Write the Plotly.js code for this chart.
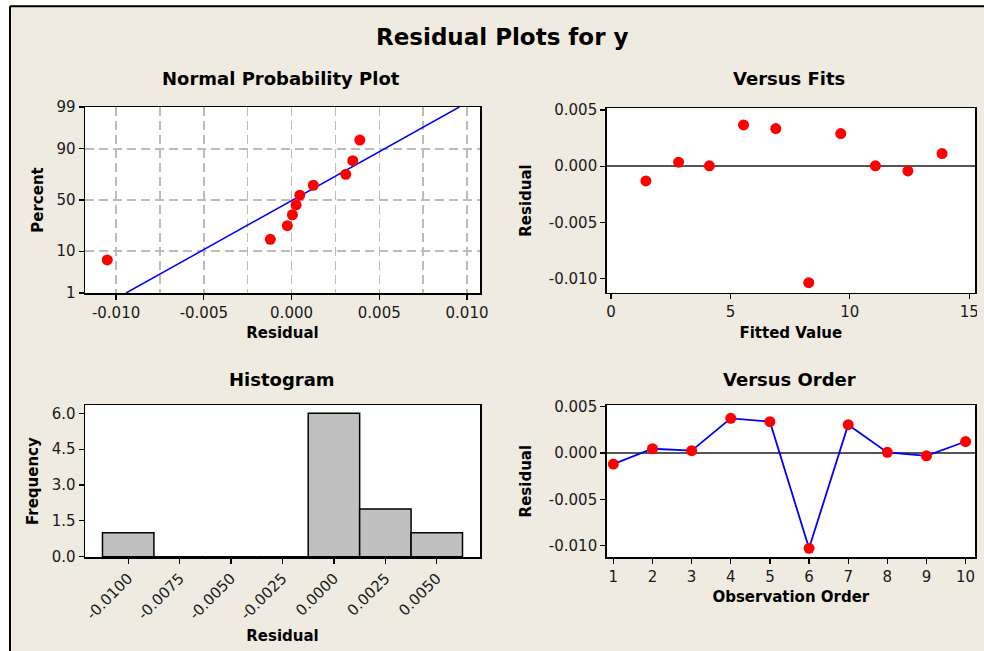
<!DOCTYPE html>
<html>
<head>
<meta charset="utf-8">
<script src="https://cdn.plot.ly/plotly-3.0.1.min.js"></script>
<style>html,body{margin:0;padding:0;background:#efebe1;overflow:hidden;}#chart{width:984px;height:651px;}</style>
</head>
<body>
<div id="chart"></div>
<script>
// ---- Data ----
// Normal probability plot (sorted residuals and plotted percents)
const normResid = [-0.0105, -0.00121, -0.00024, 0.00005, 0.00026, 0.00047, 0.00124, 0.00309, 0.00349, 0.00389];
const normPct = [6.7, 16.3, 26.0, 35.6, 45.2, 54.8, 64.4, 74.0, 83.7, 93.3];
const fitLineResid = [-0.00943, 0.00956];
const fitLinePct = [1, 99];
const pctTicks = [1, 10, 50, 90, 99];
const pctTickText = ['1', '10', '50', '90', '99'];
const residTicks = [-0.010, -0.005, 0.000, 0.005, 0.010];
const residTickText = ['-0.010', '-0.005', '0.000', '0.005', '0.010'];
const residMinorGrid = [-0.0075, -0.0025, 0.0025, 0.0075];

// Versus fits
const fittedValues = [1.46, 2.83, 4.12, 5.55, 6.90, 8.28, 9.62, 11.07, 12.43, 13.86];
const fitsResid = [-0.00131, 0.00036, 0.00003, 0.00367, 0.00335, -0.01036, 0.00290, 0.00003, -0.00042, 0.00112];
const fitsXTicks = [0, 5, 10, 15];
const fitsXTickText = ['0', '5', '10', '15'];
const residYTicks = [0.005, 0.000, -0.005, -0.010];
const residYTickText = ['0.005', '0.000', '-0.005', '-0.010'];

// Histogram
const binCenters = [-0.0100, -0.0075, -0.0050, -0.0025, 0.0000, 0.0025, 0.0050];
const binTickText = ['-0.0100', '-0.0075', '-0.0050', '-0.0025', '0.0000', '0.0025', '0.0050'];
const frequency = [1, 0, 0, 0, 6, 2, 1];
const freqTicks = [0, 1.5, 3.0, 4.5, 6.0];
const freqTickText = ['0.0', '1.5', '3.0', '4.5', '6.0'];

// Versus order
const observation = [1, 2, 3, 4, 5, 6, 7, 8, 9, 10];
const orderResid = [-0.00119, 0.00046, 0.00025, 0.00374, 0.00338, -0.01028, 0.00306, 0.00007, -0.00030, 0.00124];
const orderTickText = ['1', '2', '3', '4', '5', '6', '7', '8', '9', '10'];

// ---- normal probability scale (inverse normal CDF, Acklam) ----
function probit(p) {
  const a = [-3.969683028665376e+01, 2.209460984245205e+02, -2.759285104469687e+02, 1.383577518672690e+02, -3.066479806614716e+01, 2.506628277459239e+00];
  const b = [-5.447609879822406e+01, 1.615858368580409e+02, -1.556989798598866e+02, 6.680131188771972e+01, -1.328068155288572e+01];
  const c = [-7.784894002430293e-03, -3.223964580411365e-01, -2.400758277161838e+00, -2.549732539343734e+00, 4.374664141464968e+00, 2.938163982698783e+00];
  const d = [7.784695709041462e-03, 3.224671290700398e-01, 2.445134137142996e+00, 3.754408661907416e+00];
  const pl = 0.02425, ph = 1 - pl;
  let q, r;
  if (p < pl) { q = Math.sqrt(-2 * Math.log(p)); return (((((c[0]*q+c[1])*q+c[2])*q+c[3])*q+c[4])*q+c[5]) / ((((d[0]*q+d[1])*q+d[2])*q+d[3])*q+1); }
  if (p <= ph) { q = p - 0.5; r = q*q; return (((((a[0]*r+a[1])*r+a[2])*r+a[3])*r+a[4])*r+a[5])*q / (((((b[0]*r+b[1])*r+b[2])*r+b[3])*r+b[4])*r+1); }
  q = Math.sqrt(-2 * Math.log(1 - p)); return -(((((c[0]*q+c[1])*q+c[2])*q+c[3])*q+c[4])*q+c[5]) / ((((d[0]*q+d[1])*q+d[2])*q+d[3])*q+1);
}
const toZ = arr => arr.map(v => probit(v / 100));

// ---- layout helpers ----
const W = 984, H = 651;
const px = v => v / W;
const py = v => 1 - v / H;
const TICKFONT = {family: 'DejaVu Sans', size: 15, color: '#1a1a1a'};
const TITLEFONT = {family: 'DejaVu Sans', size: 15, color: '#000', weight: 'bold'};
const SUBFONT = {family: 'DejaVu Sans', size: 18, weight: 'bold', color: '#000'};
const RED = '#ff0000', BLUE = '#0000ff';
const BEIGE = '#efebe1';
const GRID = {showgrid: true, gridcolor: '#bcbcbc', gridwidth: 1.5, griddash: '9px,5px'};

function axisBase(extra) {
  return Object.assign({
    showline: true, mirror: true, linecolor: '#000', linewidth: 1.5,
    ticks: 'outside', ticklen: 5, tickwidth: 1.2, tickcolor: '#000',
    tickfont: TICKFONT, showgrid: false, zeroline: false, fixedrange: true,
    tickmode: 'array'
  }, extra);
}

function label(text, x, y, font) {
  return {text: text, x: px(x), y: py(y), xref: 'paper', yref: 'paper', showarrow: false,
          xanchor: 'center', yanchor: 'middle', font: font};
}

const traces = [
  { type: 'scatter', mode: 'lines', x: fitLineResid, y: toZ(fitLinePct), xaxis: 'x', yaxis: 'y',
    line: {color: BLUE, width: 1.5}, hoverinfo: 'skip' },
  { type: 'scatter', mode: 'markers', x: normResid, y: toZ(normPct), xaxis: 'x', yaxis: 'y',
    marker: {color: RED, size: 11} },
  { type: 'scatter', mode: 'markers', x: fittedValues, y: fitsResid, xaxis: 'x2', yaxis: 'y2',
    marker: {color: RED, size: 11} },
  { type: 'bar', x: binCenters, y: frequency, width: 0.0025, xaxis: 'x3', yaxis: 'y3',
    marker: {color: '#c0c0c0', line: {color: '#000', width: 1.5}} },
  { type: 'scatter', mode: 'lines+markers', x: observation, y: orderResid, xaxis: 'x4', yaxis: 'y4',
    line: {color: BLUE, width: 1.8}, marker: {color: RED, size: 11} }
];

const layout = {
  width: W, height: H, showlegend: false,
  margin: {l: 0, r: 0, t: 0, b: 0},
  paper_bgcolor: BEIGE, plot_bgcolor: '#ffffff',
  font: {family: 'DejaVu Sans', color: '#000'},
  bargap: 0,
  xaxis: axisBase(Object.assign({domain: [px(85), px(480)], anchor: 'y', range: [-0.01177, 0.01074],
    tickvals: residTicks, ticktext: residTickText,
    minor: Object.assign({tickmode: 'array', tickvals: residMinorGrid, ticks: ''}, GRID),
    title: {text: 'Residual', font: TITLEFONT, standoff: 7}}, GRID)),
  yaxis: axisBase(Object.assign({domain: [py(293), py(107)], anchor: 'x', range: [probit(0.01), probit(0.99)],
    tickvals: toZ(pctTicks), ticktext: pctTickText,
    title: {text: 'Percent', font: TITLEFONT, standoff: 9}}, GRID)),
  xaxis2: axisBase({domain: [px(606.7), px(975)], anchor: 'y2', range: [-0.18, 15.24],
    tickvals: fitsXTicks, ticktext: fitsXTickText,
    title: {text: 'Fitted Value', font: TITLEFONT, standoff: 7}}),
  yaxis2: axisBase({domain: [py(292.7), py(108.3)], anchor: 'x2', range: [-0.01125, 0.00515],
    tickvals: residYTicks, ticktext: residYTickText,
    zeroline: true, zerolinecolor: '#555', zerolinewidth: 1.5,
    title: {text: 'Residual', font: TITLEFONT, standoff: 13}}),
  xaxis3: axisBase({domain: [px(85), px(480)], anchor: 'y3', range: [-0.0121, 0.0071],
    tickvals: binCenters, ticktext: binTickText, tickangle: -45,
    title: {text: 'Residual', font: TITLEFONT, standoff: 8}}),
  yaxis3: axisBase({domain: [py(557.3), py(405)], anchor: 'x3', range: [-0.025, 6.35],
    tickvals: freqTicks, ticktext: freqTickText,
    title: {text: 'Frequency', font: TITLEFONT, standoff: 9}}),
  xaxis4: axisBase({domain: [px(606.7), px(975)], anchor: 'y4', range: [0.83, 10.24],
    tickvals: observation, ticktext: orderTickText,
    title: {text: 'Observation Order', font: TITLEFONT, standoff: 6}}),
  yaxis4: axisBase({domain: [py(557.3), py(405)], anchor: 'x4', range: [-0.01125, 0.00518],
    tickvals: residYTicks, ticktext: residYTickText,
    zeroline: true, zerolinecolor: '#555', zerolinewidth: 1.5,
    title: {text: 'Residual', font: TITLEFONT, standoff: 13}}),
  annotations: [
    label('Residual Plots for y', 502, 37, {family: 'DejaVu Sans', size: 23, weight: 'bold', color: '#000'}),
    label('Normal Probability Plot', 281, 78, SUBFONT),
    label('Versus Fits', 789, 78, SUBFONT),
    label('Histogram', 282, 379, SUBFONT),
    label('Versus Order', 789, 379, SUBFONT)
  ],
  shapes: [
    {type: 'rect', xref: 'paper', yref: 'paper', x0: px(977), x1: px(1000), y0: -0.05, y1: py(7.5), fillcolor: BEIGE, line: {width: 0}, layer: 'above'},
    {type: 'rect', xref: 'paper', yref: 'paper', x0: -0.05, x1: px(9), y0: -0.05, y1: 1.05, fillcolor: '#ffffff', line: {width: 0}, layer: 'above'},
    {type: 'rect', xref: 'paper', yref: 'paper', x0: -0.05, x1: 1.05, y0: py(5.2), y1: 1.05, fillcolor: '#ffffff', line: {width: 0}, layer: 'above'},
    {type: 'line', xref: 'paper', yref: 'paper', x0: px(10), x1: px(10), y0: -0.05, y1: py(6.3), line: {color: '#000', width: 2}, layer: 'above'},
    {type: 'line', xref: 'paper', yref: 'paper', x0: px(10), x1: px(1010), y0: py(6.3), y1: py(6.3), line: {color: '#000', width: 2}, layer: 'above'}
  ]
};

Plotly.newPlot('chart', traces, layout, {displayModeBar: false, staticPlot: true});
</script>
</body>
</html>
